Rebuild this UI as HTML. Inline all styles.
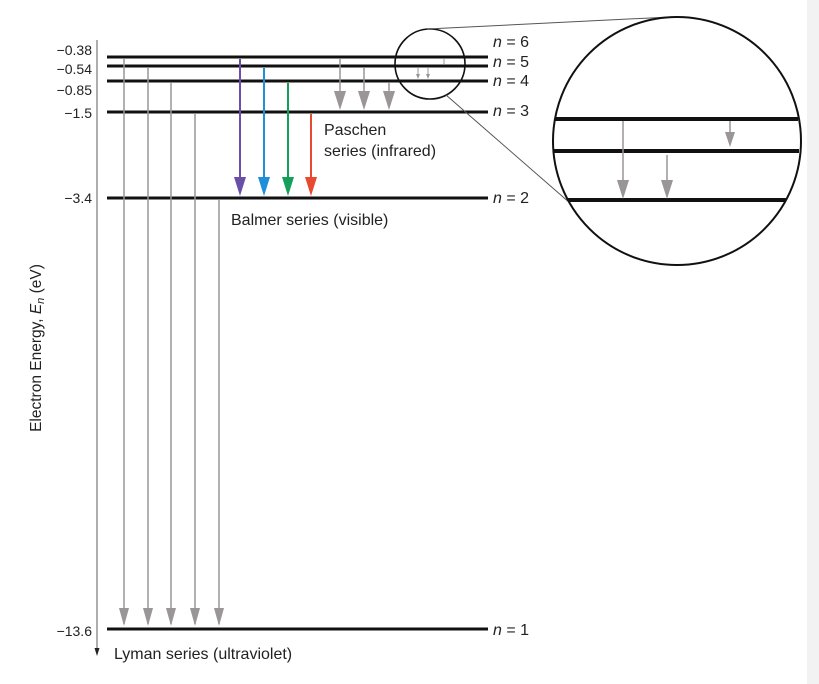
<!DOCTYPE html>
<html><head><style>
html,body{margin:0;padding:0;background:#fff}
svg{display:block}
text{font-family:"Liberation Sans",sans-serif;fill:#222}
</style></head><body>
<svg width="819" height="684" viewBox="0 0 819 684" xmlns="http://www.w3.org/2000/svg">
<rect x="807" y="0" width="12" height="684" fill="#f2f2f2"/>
<line x1="97" y1="40" x2="97" y2="650" stroke="#777" stroke-width="1.2"/>
<path d="M94.5,648 L99.5,648 L97,656 Z" fill="#222"/>
<text transform="translate(41,348) rotate(-90)" font-size="15.5" text-anchor="middle">Electron Energy, <tspan font-style="italic">E</tspan><tspan font-style="italic" font-size="11" dy="3">n</tspan><tspan dy="-3"> (eV)</tspan></text>
<g font-size="14" text-anchor="end">
<text x="92" y="55">−0.38</text>
<text x="92" y="74">−0.54</text>
<text x="92" y="95">−0.85</text>
<text x="92" y="118">−1.5</text>
<text x="92" y="203">−3.4</text>
<text x="92" y="636">−13.6</text>
</g>
<g stroke="#111" stroke-width="3">
<line x1="107" y1="57" x2="488" y2="57"/>
<line x1="107" y1="66" x2="488" y2="66"/>
<line x1="107" y1="81" x2="488" y2="81"/>
<line x1="107" y1="112" x2="488" y2="112"/>
<line x1="107" y1="198" x2="488" y2="198"/>
<line x1="107" y1="629" x2="488" y2="629"/>
</g>
<g font-size="16">
<text x="493" y="47"><tspan font-style="italic">n</tspan> = 6</text>
<text x="493" y="67"><tspan font-style="italic">n</tspan> = 5</text>
<text x="493" y="86"><tspan font-style="italic">n</tspan> = 4</text>
<text x="493" y="116"><tspan font-style="italic">n</tspan> = 3</text>
<text x="493" y="203"><tspan font-style="italic">n</tspan> = 2</text>
<text x="493" y="635"><tspan font-style="italic">n</tspan> = 1</text>
</g>
<g stroke="#9a9597" stroke-width="1.5">
<line x1="124" y1="59" x2="124" y2="624"/><path d="M119,608 L129,608 L124,626Z" fill="#9a9597" stroke="none"/>
<line x1="148" y1="68" x2="148" y2="624"/><path d="M143,608 L153,608 L148,626Z" fill="#9a9597" stroke="none"/>
<line x1="171" y1="83" x2="171" y2="624"/><path d="M166,608 L176,608 L171,626Z" fill="#9a9597" stroke="none"/>
<line x1="195" y1="114" x2="195" y2="624"/><path d="M190,608 L200,608 L195,626Z" fill="#9a9597" stroke="none"/>
<line x1="219" y1="200" x2="219" y2="624"/><path d="M214,608 L224,608 L219,626Z" fill="#9a9597" stroke="none"/>
</g>
<line x1="240" y1="59" x2="240" y2="180" stroke="#6a4fa8" stroke-width="2"/><path d="M234,177 L246,177 L240,196Z" fill="#6a4fa8"/>
<line x1="264" y1="68" x2="264" y2="180" stroke="#1e8fd8" stroke-width="2"/><path d="M258,177 L270,177 L264,196Z" fill="#1e8fd8"/>
<line x1="288" y1="83" x2="288" y2="180" stroke="#13a05a" stroke-width="2"/><path d="M282,177 L294,177 L288,196Z" fill="#13a05a"/>
<line x1="311" y1="114" x2="311" y2="180" stroke="#e8492f" stroke-width="2"/><path d="M305,177 L317,177 L311,196Z" fill="#e8492f"/>
<g stroke="#9a9597" stroke-width="1.5">
<line x1="340" y1="59" x2="340" y2="95"/><line x1="364" y1="68" x2="364" y2="95"/><line x1="389" y1="83" x2="389" y2="95"/>
</g>
<g fill="#9a9597">
<path d="M334,91 L346,91 L340,110Z"/><path d="M358,91 L370,91 L364,110Z"/><path d="M383,91 L395,91 L389,110Z"/>
</g>
<circle cx="430" cy="64" r="35" fill="none" stroke="#111" stroke-width="1.6"/>
<g stroke="#9a9597" stroke-width="1"><line x1="418" y1="68" x2="418" y2="76"/><line x1="428" y1="68" x2="428" y2="76"/><line x1="444" y1="59" x2="444" y2="64"/></g>
<path d="M416,74 L420,74 L418,79Z M426,74 L430,74 L428,79Z" fill="#9a9597"/>
<line x1="427" y1="29" x2="670" y2="17" stroke="#555" stroke-width="1"/>
<line x1="446" y1="95" x2="578" y2="210" stroke="#555" stroke-width="1"/>
<circle cx="677" cy="141" r="124" fill="#fff" stroke="#111" stroke-width="2"/>
<g stroke="#111" stroke-width="4">
<line x1="555" y1="119" x2="798" y2="119"/>
<line x1="554" y1="151" x2="799" y2="151"/>
<line x1="568" y1="200" x2="786" y2="200"/>
</g>
<g stroke="#9a9597" stroke-width="1.5">
<line x1="623" y1="121" x2="623" y2="185"/><line x1="667" y1="155" x2="667" y2="185"/><line x1="730" y1="121" x2="730" y2="134"/>
</g>
<g fill="#9a9597">
<path d="M617,180 L629,180 L623,199Z"/><path d="M661,180 L673,180 L667,199Z"/><path d="M725,132 L735,132 L730,147Z"/>
</g>
<g font-size="16">
<text x="324" y="135">Paschen</text>
<text x="324" y="156">series (infrared)</text>
<text x="231" y="225">Balmer series (visible)</text>
<text x="114" y="659">Lyman series (ultraviolet)</text>
</g>
</svg>
</body></html>
